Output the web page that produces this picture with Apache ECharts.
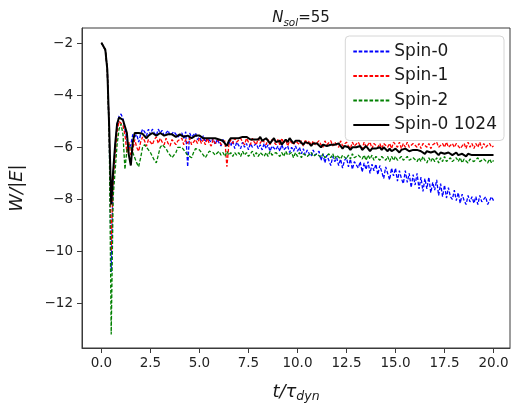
<!DOCTYPE html>
<html>
<head>
<meta charset="utf-8">
<script src="https://cdn.jsdelivr.net/npm/echarts@6/dist/echarts.min.js"></script>
<style>
html,body{margin:0;padding:0;background:#fff;}
#chart{width:512px;height:403px;}
</style>
</head>
<body>
<div id="chart"></div>
<script>
// sampled every 0.1 t/tau_dyn, from t = 0.0 to 20.0
const spin0 = [
-1.98,-2.05,-2.25,-3.0,-5.5,-10.8,-7.0,-6.0,-5.1,-4.8,
-4.72,-4.9,-5.3,-5.7,-6.05,-5.9,-5.5,-5.6,-5.5,-5.8,
-5.5,-5.3,-5.4,-5.55,-5.3,-5.5,-5.3,-5.45,-5.55,-5.3,
-5.45,-5.35,-5.55,-5.6,-5.35,-5.55,-5.6,-5.4,-5.45,-5.6,
-5.6,-5.45,-5.65,-5.4,-6.75,-5.45,-5.6,-5.65,-5.45,-5.7,
-5.6,-5.75,-5.55,-5.8,-5.65,-5.6,-5.8,-5.65,-5.9,-5.7,
-5.75,-5.95,-5.7,-5.85,-5.95,-5.75,-5.95,-5.75,-6.05,-5.8,
-5.85,-6.05,-5.8,-6.0,-5.85,-6.1,-5.85,-6.0,-6.05,-5.85,
-6.05,-5.9,-6.1,-5.85,-6.05,-5.9,-6.15,-5.95,-5.9,-6.1,
-5.95,-6.15,-5.9,-6.1,-6.15,-5.95,-6.2,-6.0,-6.15,-5.95,
-6.15,-6.0,-6.25,-6.05,-6.3,-6.1,-6.25,-6.35,-6.1,-6.3,
-6.35,-6.15,-6.5,-6.25,-6.6,-6.3,-6.5,-6.7,-6.35,-6.55,
-6.4,-6.7,-6.45,-6.8,-6.5,-6.4,-6.75,-6.45,-6.85,-6.55,
-6.5,-6.8,-6.55,-6.95,-6.6,-6.85,-6.55,-7.0,-6.65,-6.9,
-6.65,-7.05,-6.7,-6.95,-7.2,-6.75,-7.0,-7.25,-6.8,-7.1,
-6.8,-7.3,-6.9,-7.2,-7.4,-6.9,-7.35,-7.0,-7.55,-7.05,
-7.45,-7.0,-7.6,-7.15,-7.7,-7.2,-7.6,-7.15,-7.75,-7.35,
-7.65,-7.25,-7.85,-7.4,-7.9,-7.45,-7.95,-7.55,-7.9,-8.0,
-7.65,-8.05,-7.75,-8.15,-7.8,-8.05,-8.2,-7.85,-8.1,-7.9,
-8.15,-7.9,-8.2,-7.85,-8.1,-8.15,-7.9,-8.2,-8.05,-7.9,
-8.05];
const spin1 = [
-1.98,-2.05,-2.25,-3.0,-5.4,-10.0,-7.3,-6.3,-5.4,-5.0,
-4.95,-5.15,-5.5,-6.2,-5.8,-6.3,-6.1,-5.7,-6.0,-6.15,
-5.8,-5.6,-5.75,-5.95,-5.7,-5.65,-5.9,-5.7,-5.6,-5.85,
-5.65,-5.8,-5.9,-5.65,-5.85,-5.95,-5.7,-5.65,-5.9,-5.75,
-5.7,-5.65,-5.9,-5.7,-5.85,-5.65,-5.9,-5.95,-5.7,-5.85,
-5.65,-5.85,-5.7,-5.9,-5.65,-5.85,-5.95,-5.7,-5.85,-5.9,
-5.7,-5.9,-5.95,-5.75,-6.75,-5.9,-5.7,-5.85,-5.65,-5.8,
-5.85,-5.65,-5.8,-5.9,-5.65,-5.8,-5.9,-5.65,-5.8,-5.9,
-5.65,-5.85,-5.7,-5.65,-5.9,-5.7,-5.9,-5.7,-5.65,-5.9,
-5.7,-5.9,-5.65,-5.85,-5.7,-5.95,-5.75,-5.7,-5.9,-5.75,
-5.7,-5.9,-5.75,-5.95,-5.7,-5.9,-5.75,-5.95,-5.75,-5.9,
-5.95,-5.75,-5.9,-6.0,-5.75,-5.9,-5.95,-5.75,-5.95,-5.8,
-5.8,-6.0,-5.75,-5.95,-6.0,-5.8,-5.95,-6.05,-5.8,-5.95,
-6.0,-5.8,-5.95,-6.05,-5.8,-6.0,-5.9,-5.8,-6.05,-5.85,
-5.8,-6.0,-5.85,-6.05,-5.85,-5.8,-6.0,-5.85,-6.05,-5.8,
-5.85,-6.0,-5.8,-6.05,-5.85,-6.0,-5.8,-6.0,-6.05,-5.85,
-5.8,-6.0,-5.85,-6.05,-5.85,-5.8,-6.0,-5.85,-6.05,-5.9,
-5.85,-5.8,-6.0,-6.05,-5.85,-6.0,-5.8,-6.0,-6.05,-5.85,
-6.0,-5.85,-5.8,-6.05,-6.0,-5.85,-6.05,-5.8,-6.0,-5.85,
-6.05,-5.85,-6.0,-5.8,-6.05,-5.85,-6.0,-6.05,-5.85,-6.0,
-5.95];
const spin2 = [
-1.98,-2.05,-2.25,-3.0,-5.6,-13.2,-7.9,-6.9,-5.9,-5.3,
-5.1,-5.5,-6.85,-6.1,-5.9,-6.0,-6.2,-6.4,-6.6,-6.75,
-6.4,-6.0,-5.9,-5.95,-6.1,-6.2,-6.35,-6.5,-6.6,-6.3,
-6.0,-5.9,-5.95,-6.05,-6.2,-6.3,-6.4,-6.45,-6.2,-6.0,
-5.95,-6.0,-6.1,-6.2,-6.3,-6.35,-6.4,-6.2,-6.05,-6.0,
-6.1,-6.2,-6.3,-6.4,-6.35,-6.15,-6.1,-6.2,-6.3,-6.35,
-6.15,-6.3,-6.2,-6.35,-6.15,-6.3,-6.2,-6.35,-6.2,-6.3,
-6.2,-6.35,-6.15,-6.3,-6.2,-6.35,-6.25,-6.15,-6.35,-6.2,
-6.35,-6.2,-6.15,-6.35,-6.2,-6.35,-6.15,-6.3,-6.35,-6.2,
-6.15,-6.35,-6.2,-6.35,-6.15,-6.3,-6.35,-6.2,-6.4,-6.2,
-6.35,-6.2,-6.4,-6.25,-6.2,-6.35,-6.4,-6.2,-6.35,-6.4,
-6.25,-6.2,-6.4,-6.25,-6.4,-6.45,-6.25,-6.4,-6.25,-6.45,
-6.3,-6.25,-6.45,-6.3,-6.25,-6.45,-6.3,-6.45,-6.25,-6.4,
-6.45,-6.3,-6.25,-6.45,-6.3,-6.5,-6.3,-6.45,-6.3,-6.5,
-6.35,-6.3,-6.5,-6.35,-6.3,-6.5,-6.35,-6.55,-6.35,-6.5,
-6.35,-6.5,-6.55,-6.35,-6.5,-6.55,-6.35,-6.5,-6.55,-6.4,
-6.35,-6.55,-6.4,-6.55,-6.35,-6.5,-6.6,-6.4,-6.55,-6.4,
-6.55,-6.4,-6.6,-6.4,-6.55,-6.35,-6.55,-6.6,-6.4,-6.55,
-6.6,-6.4,-6.55,-6.4,-6.6,-6.45,-6.4,-6.6,-6.45,-6.4,
-6.55,-6.6,-6.4,-6.55,-6.6,-6.45,-6.4,-6.6,-6.45,-6.6,
-6.5];
const spin0_1024 = [
-1.98,-2.05,-2.25,-3.0,-5.3,-8.2,-6.9,-5.9,-5.1,-4.85,
-4.78,-4.95,-5.2,-5.45,-6.3,-6.7,-5.8,-5.45,-5.4,-5.45,
-5.5,-5.48,-5.55,-5.65,-5.55,-5.5,-5.45,-5.5,-5.55,-5.5,
-5.45,-5.5,-5.55,-5.6,-5.5,-5.45,-5.5,-5.55,-5.6,-5.55,
-5.5,-5.55,-5.6,-5.6,-5.55,-5.6,-5.65,-5.6,-5.55,-5.6,
-5.55,-5.6,-5.65,-5.7,-5.65,-5.6,-5.65,-5.7,-5.65,-5.7,
-5.7,-5.65,-5.75,-5.8,-5.95,-5.75,-5.65,-5.6,-5.65,-5.7,
-5.65,-5.6,-5.6,-5.65,-5.6,-5.65,-5.7,-5.65,-5.7,-5.65,
-5.7,-5.6,-5.75,-5.8,-5.65,-5.75,-5.85,-5.8,-5.65,-5.8,
-5.85,-5.75,-5.9,-5.85,-5.7,-5.8,-5.65,-5.75,-5.85,-5.75,
-5.7,-5.75,-5.8,-5.9,-5.8,-5.75,-5.85,-5.95,-5.85,-5.8,
-5.85,-5.9,-6.0,-5.9,-5.85,-5.95,-6.0,-5.9,-5.85,-5.9,
-5.95,-5.85,-5.95,-6.05,-5.95,-5.9,-6.0,-6.1,-6.0,-5.95,
-6.0,-6.05,-5.95,-6.1,-6.05,-5.95,-6.05,-6.15,-6.05,-6.0,
-6.05,-6.1,-6.0,-6.1,-6.0,-6.05,-6.15,-6.05,-6.15,-6.1,
-6.05,-6.1,-6.2,-6.1,-6.15,-6.05,-6.05,-6.15,-6.2,-6.1,
-6.15,-6.1,-6.05,-6.15,-6.2,-6.25,-6.15,-6.1,-6.2,-6.25,
-6.15,-6.2,-6.3,-6.2,-6.15,-6.25,-6.3,-6.2,-6.25,-6.3,
-6.25,-6.2,-6.3,-6.35,-6.25,-6.3,-6.35,-6.25,-6.25,-6.3,
-6.35,-6.3,-6.25,-6.3,-6.35,-6.3,-6.25,-6.3,-6.25,-6.3,
-6.3];
const seriesNames = ['Spin-0', 'Spin-1', 'Spin-2', 'Spin-0 1024'];
const xTicks = [0, 2.5, 5, 7.5, 10, 12.5, 15, 17.5, 20];
const yTicks = [-12, -10, -8, -6, -4, -2];

const timeStep = 0.1;
function pairs(vals) { return vals.map((v, i) => [Math.round(i * timeStep * 10) / 10, v]); }
const minus = s => String(s).replace('-', '\u2212');
const FONT = 'DejaVu Sans';

const chart = echarts.init(document.getElementById('chart'), null, {renderer: 'canvas'});
const dashed = (c) => ({color: c, width: 1.3, type: [3.6, 1.8]});
chart.setOption({
  animation: false,
  backgroundColor: '#fff',
  title: {
    text: '{i|N}{s|sol}{n|=55}',
    left: 296, top: 2, textAlign: 'center',
    textStyle: {
      fontWeight: 'normal',
      rich: {
        i: {fontFamily: FONT, fontStyle: 'italic', fontWeight: 'normal', fontSize: 15, color: '#1a1a1a', lineHeight: 22, verticalAlign: 'middle'},
        s: {fontFamily: FONT, fontStyle: 'italic', fontWeight: 'normal', fontSize: 10.5, color: '#1a1a1a', lineHeight: 22, verticalAlign: 'bottom'},
        n: {fontFamily: FONT, fontWeight: 'normal', fontSize: 15, color: '#1a1a1a', lineHeight: 22, verticalAlign: 'middle'}
      }
    }
  },
  grid: {left: 82, top: 28, width: 428, height: 320, outerBoundsMode: 'none', containLabel: false, show: true, borderColor: '#3a3a3a', borderWidth: 1, backgroundColor: 'transparent'},
  legend: {
    orient: 'vertical', right: 8, top: 36,
    data: seriesNames,
    itemWidth: 36, itemHeight: 14, itemGap: 7.5, itemTextGap: 12,
    padding: [7, 7, 7, 7],
    itemStyle: {opacity: 0},
    backgroundColor: 'rgba(255,255,255,0.85)', borderColor: '#d6d6d6', borderWidth: 1, borderRadius: 4,
    textStyle: {fontFamily: FONT, fontSize: 17, color: '#1a1a1a'}
  },
  xAxis: {
    type: 'value', min: -0.99, max: 20.84,
    splitLine: {show: false},
    axisLine: {show: true, onZero: false, lineStyle: {color: '#3a3a3a', width: 1}},
    axisTick: {show: true, length: 5, customValues: xTicks, lineStyle: {color: '#3a3a3a'}},
    axisLabel: {customValues: xTicks, margin: 8, fontFamily: FONT, fontSize: 13.5, color: '#222', formatter: v => v.toFixed(1)},
    name: '{i|t/τ}{s|dyn}', nameLocation: 'middle', nameGap: 33,
    nameTextStyle: {
      rich: {
        i: {fontFamily: FONT, fontStyle: 'italic', fontSize: 18, color: '#1a1a1a', lineHeight: 22, verticalAlign: 'middle'},
        s: {fontFamily: FONT, fontStyle: 'italic', fontSize: 12.5, color: '#1a1a1a', lineHeight: 22, verticalAlign: 'bottom'}
      }
    }
  },
  yAxis: {
    type: 'value', min: -13.72, max: -1.41,
    splitLine: {show: false},
    axisLine: {show: true, onZero: false, lineStyle: {color: '#3a3a3a', width: 1}},
    axisTick: {show: true, length: 5, customValues: yTicks, lineStyle: {color: '#3a3a3a'}},
    axisLabel: {customValues: yTicks, margin: 9, fontFamily: FONT, fontSize: 13.5, color: '#222', formatter: v => minus(v)},
    name: 'W/|E|', nameLocation: 'middle', nameGap: 56, nameRotate: 90,
    nameTextStyle: {fontFamily: FONT, fontStyle: 'italic', fontSize: 18, color: '#1a1a1a'}
  },
  series: [
    {name: seriesNames[0], type: 'line', symbol: 'none', data: pairs(spin0), lineStyle: dashed('#0000ff'), itemStyle: {color: '#0000ff'}},
    {name: seriesNames[1], type: 'line', symbol: 'none', data: pairs(spin1), lineStyle: dashed('#ff0000'), itemStyle: {color: '#ff0000'}},
    {name: seriesNames[2], type: 'line', symbol: 'none', data: pairs(spin2), lineStyle: dashed('#008000'), itemStyle: {color: '#008000'}},
    {name: seriesNames[3], type: 'line', symbol: 'none', data: pairs(spin0_1024), lineStyle: {color: '#000', width: 2}, itemStyle: {color: '#000'}}
  ]
});
</script>
</body>
</html>
